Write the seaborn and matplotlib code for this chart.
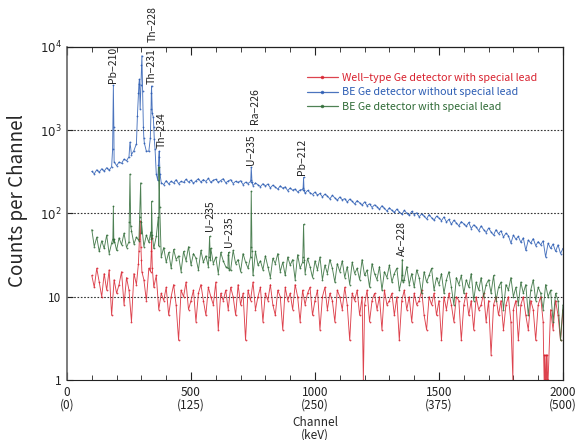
import numpy as np
import pandas as pd
import matplotlib
matplotlib.use("Agg")
import matplotlib.pyplot as plt
import seaborn as sns

# ---------------- data ----------------
channels = np.arange(100, 2001, 10)

blue_counts = [
    320, 300, 335, 312, 345, 322, 355, 330, 365, 420,          # 100-190
    375, 415, 400, 450, 430, 480, 510, 570, 690, 3600,         # 200-290
    6000, 800, 560, 560, 2800, 1100, 300, 480, 235, 222,       # 300-390
    248, 226, 244, 232, 255, 228, 243, 236, 258, 238,          # 400-490
    252, 231, 247, 262, 238, 256, 242, 265, 236, 251,          # 500-590
    258, 237, 249, 262, 233, 246, 255, 229, 244, 236,          # 600-690
    248, 222, 238, 229, 242, 216, 233, 221, 210, 228,          # 700-790
    214, 226, 203, 219, 208, 196, 215, 201, 209, 188,          # 800-890
    203, 190, 197, 181, 192, 194, 175, 189, 178, 169,          # 900-990
    181, 166, 174, 158, 171, 162, 150, 165, 154, 144,          # 1000-1090
    158, 146, 151, 137, 149, 140, 130, 143, 134, 126,          # 1100-1190
    138, 124, 131, 118, 127, 121, 112, 124, 115, 107,          # 1200-1290
    117, 109, 103, 113, 104, 98, 109, 101, 95, 106,            # 1300-1390
    97, 102, 91, 99, 93, 86, 97, 89, 83, 93,                   # 1400-1490
    88, 82, 91, 79, 85, 74, 83, 77, 71, 80,                    # 1500-1590
    75, 70, 78, 66, 73, 69, 62, 71, 64, 59,                    # 1600-1690
    67, 60, 55, 64, 57, 62, 52, 58, 54, 44,                    # 1700-1790
    55, 49, 53, 45, 51, 36, 48, 44, 50, 41,                    # 1800-1890
    46, 42, 47, 30, 44, 38, 43, 35, 42, 33,                    # 1900-1990
    38,                                                        # 2000
]
blue_peak_ch = [184, 187, 189, 254, 284, 288, 292, 295, 298, 302, 305, 308, 312,
                336, 339, 341, 344, 348, 352, 355, 366, 369, 372, 375,
                741, 743, 746, 952, 954, 956]
blue_peak_counts = [600, 3470, 1100, 720, 1500, 2800, 4100, 1800, 3500, 7850, 3000, 1100, 700,
                    800, 1800, 3400, 1600, 1430, 780, 600, 250, 380, 560, 300,
                    250, 360, 240, 200, 271, 190]

green_counts = [
    64, 40, 52, 35, 47, 38, 55, 33, 44, 49,                    # 100-190
    36, 51, 42, 58, 39, 46, 62, 43, 52, 47,                    # 200-290
    58, 40, 55, 45, 50, 38, 53, 41, 30, 39,                    # 300-390
    26, 34, 22, 37, 28, 31, 20, 35, 27, 40,                    # 400-490
    24, 33, 29, 21, 36, 26, 31, 23, 38, 25,                    # 500-590
    30, 19, 34, 27, 23, 32, 21, 36, 25, 28,                    # 600-690
    20, 33, 26, 22, 30, 18, 35, 24, 27, 21,                    # 700-790
    31, 23, 17, 29, 25, 33, 20, 26, 18, 30,                    # 800-890
    24, 28, 16, 32, 22, 26, 19, 29, 23, 17,                    # 900-990
    27, 21, 30, 16, 24, 19, 28, 22, 15, 25,                    # 1000-1090
    20, 27, 17, 23, 14, 26, 19, 22, 16, 28,                    # 1100-1190
    18, 21, 13, 25, 19, 16, 23, 12, 20, 17,                    # 1200-1290
    24, 15, 19, 22, 12, 18, 16, 23, 14, 19,                    # 1300-1390
    13, 21, 17, 11, 20, 15, 18, 22, 12, 17,                    # 1400-1490
    14, 19, 11, 16, 20, 13, 8, 17, 14, 18,                     # 1500-1590
    11, 16, 13, 19, 9, 15, 12, 17, 10, 14,                     # 1600-1690
    16, 11, 18, 9, 13, 15, 7, 14, 12, 17,                      # 1700-1790
    10, 13, 8, 15, 11, 14, 6, 12, 16, 9,                       # 1800-1890
    13, 11, 7, 14, 10, 12, 5, 11, 9, 3,                        # 1900-1990
    8,                                                         # 2000
]
green_peak_ch = [185, 187, 189, 251, 254, 257, 293, 297, 300, 338, 341, 344,
                 368, 371, 374, 572, 575, 578, 649, 652, 655, 741, 743, 746,
                 951, 954, 957, 1349, 1352, 1355]
green_peak_counts = [50, 122, 45, 80, 297, 70, 90, 233, 80, 60, 140, 55,
                     90, 360, 120, 30, 53, 28, 22, 34, 21, 40, 184, 35,
                     30, 74, 28, 16, 28, 15]

red_counts = [
    18, 13, 22, 15, 10, 19, 12, 21, 6, 16,                     # 100-190
    11, 14, 20, 8, 17, 12, 5, 19, 14, 35,                      # 200-290
    28, 16, 9, 22, 35, 13, 18, 7, 11, 9,                       # 300-390
    13, 6, 10, 14, 8, 3, 12, 10, 15, 7,                        # 400-490
    9, 12, 5, 11, 14, 9, 6, 13, 10, 8,                         # 500-590
    15, 4, 11, 9, 12, 7, 13, 10, 6, 14,                        # 600-690
    8, 11, 3, 12, 9, 15, 7, 10, 13, 5,                         # 700-790
    11, 9, 14, 8, 6, 12, 10, 4, 13, 9,                         # 800-890
    11, 7, 14, 10, 5, 12, 8, 11, 13, 6,                        # 900-990
    9, 12, 4, 10, 13, 7, 11, 9, 5, 12,                         # 1000-1090
    10, 7, 13, 8, 3, 11, 9, 12, 6, 10,                         # 1100-1190
    8, 12, 5, 9, 11, 7, 10, 4, 12, 8,                          # 1200-1290
    9, 11, 6, 10, 3, 9, 12, 7, 10, 5,                          # 1300-1390
    11, 8, 9, 12, 6, 4, 10, 8, 11, 6,                          # 1400-1490
    9, 3, 10, 7, 11, 8, 5, 10, 9, 3,                           # 1500-1590
    8, 11, 6, 9, 4, 10, 7, 8, 11, 5,                           # 1600-1690
    9, 2, 8, 10, 6, 9, 4, 8, 10, 5,                            # 1700-1790
    7, 9, 3, 8, 10, 6, 4, 9, 7, 3,                             # 1800-1890
    8, 10, 5, 1, 1, 7, 4, 9, 6, 3,                             # 1900-1990
    7,                                                         # 2000
]
red_peak_ch = [288, 292, 295, 298, 302, 337, 341, 344, 1195, 1798,
               1922, 1924, 1926, 1928, 1932, 1934, 1936, 1938]
red_peak_counts = [25, 50, 81, 40, 20, 20, 51, 22, 1, 1,
                   2, 1, 2, 1, 2, 1, 2, 1]

series_names = ["Well−type Ge detector with special lead",
                "BE Ge detector without special lead",
                "BE Ge detector with special lead"]
series_colors = ["#d8222f", "#2b5cb3", "#2f6b36"]

x_ticks = [0, 500, 1000, 1500, 2000]
x_tick_labels = ["0\n(0)", "500\n(125)", "1000\n(250)", "1500\n(375)", "2000\n(500)"]
y_ticks = [1, 10, 100, 1000, 10000]
y_tick_labels = ["1", "10", "$10^2$", "$10^3$", "$10^4$"]

# peak labels: text, channel position, bottom of text (counts)
peak_labels = ["Pb−210", "Th−228", "Th−231", "Th−234", "U−235", "Ra−226",
               "Pb−212", "U−235", "U−235", "Ac−228"]
peak_label_ch = [185, 344, 340, 380, 743, 760, 948, 575, 655, 1352]
peak_label_y = [3700, 11500, 3600, 620, 380, 1200, 290, 62, 40, 31]


def build(base, pk_ch, pk_val, name):
    ch = np.concatenate([channels, np.array(pk_ch)])
    val = np.concatenate([np.array(base, float), np.array(pk_val, float)])
    order = np.argsort(ch, kind="stable")
    return pd.DataFrame({"Channel": ch[order], "Counts": val[order], "series": name})


frames = [build(red_counts, red_peak_ch, red_peak_counts, series_names[0]),
          build(blue_counts, blue_peak_ch, blue_peak_counts, series_names[1]),
          build(green_counts, green_peak_ch, green_peak_counts, series_names[2])]

# ---------------- plotting ----------------
sns.set_style("ticks")
plt.rcParams["font.family"] = ["Noto Sans CJK JP", "DejaVu Sans"]
plt.rcParams["axes.unicode_minus"] = True

fig = plt.figure(figsize=(5.75, 4.4), dpi=100)
ax = fig.add_axes([0.1165, 0.1364, 0.8626, 0.7568])

for lvl in [10, 100, 1000]:
    ax.axhline(lvl, color="#333333", lw=0.8, ls=(0, (1.5, 1.5)), zorder=0.5)

# draw blue first (behind), then green, then red on top
draw_order = [1, 2, 0]
for i in draw_order:
    sns.lineplot(data=frames[i], x="Channel", y="Counts", ax=ax, color=series_colors[i],
                 lw=0.65, alpha=0.85, marker="o", markersize=1.3, markeredgewidth=0,
                 estimator=None, sort=False, label=series_names[i], zorder=2 + i * 0.1)

ax.set_yscale("log")
ax.set_xlim(0, 2000)
ax.set_ylim(1, 10000)
ax.set_xticks(x_ticks)
ax.set_xticklabels(x_tick_labels, fontsize=8.5, linespacing=0.95)
ax.set_xticks(np.arange(0, 2001, 100), minor=True)
ax.set_yticks(y_ticks)
ax.set_yticklabels(y_tick_labels, fontsize=8.5)
ax.yaxis.set_minor_locator(matplotlib.ticker.NullLocator())
ax.tick_params(axis="both", which="both", direction="in", top=True, right=False,
               colors="#222222", pad=4)
ax.tick_params(axis="x", which="major", length=6, width=0.8)
ax.tick_params(axis="x", which="minor", length=3.5, width=0.6)
ax.tick_params(axis="y", which="major", length=4, width=0.8)

ax.set_xlabel("Channel\n(keV)", fontsize=8.5, linespacing=0.95)
ax.xaxis.set_label_coords(0.5, -0.108)
ax.set_ylabel("Counts per Channel", fontsize=13.5)
ax.yaxis.set_label_coords(-0.078, 0.54)

for side in ["left", "top", "right"]:
    ax.spines[side].set_color("#222222")
    ax.spines[side].set_linewidth(0.9)
ax.spines["left"].set_color("#666666")
ax.spines["left"].set_linewidth(1.2)
ax.spines["bottom"].set_linestyle((0, (1.5, 1.0)))
ax.spines["bottom"].set_color("#222222")

for txt, cx, cy in zip(peak_labels, peak_label_ch, peak_label_y):
    ax.text(cx, cy, txt, rotation=90, ha="center", va="bottom", fontsize=7.5,
            color="#222222", clip_on=False)

handles, labels = ax.get_legend_handles_labels()
order_idx = [labels.index(n) for n in series_names]
leg = ax.legend([handles[k] for k in order_idx], [labels[k] for k in order_idx],
                loc="upper left", bbox_to_anchor=(0.475, 0.935), frameon=False,
                fontsize=7.7, handlelength=2.9, handletextpad=0.4, labelspacing=0.42,
                borderaxespad=0)
for t, c in zip(leg.get_texts(), series_colors):
    t.set_color(c)
for h in leg.legend_handles:
    h.set_markersize(2.5)
    h.set_linewidth(0.9)

fig.savefig("out.png", dpi=100)
